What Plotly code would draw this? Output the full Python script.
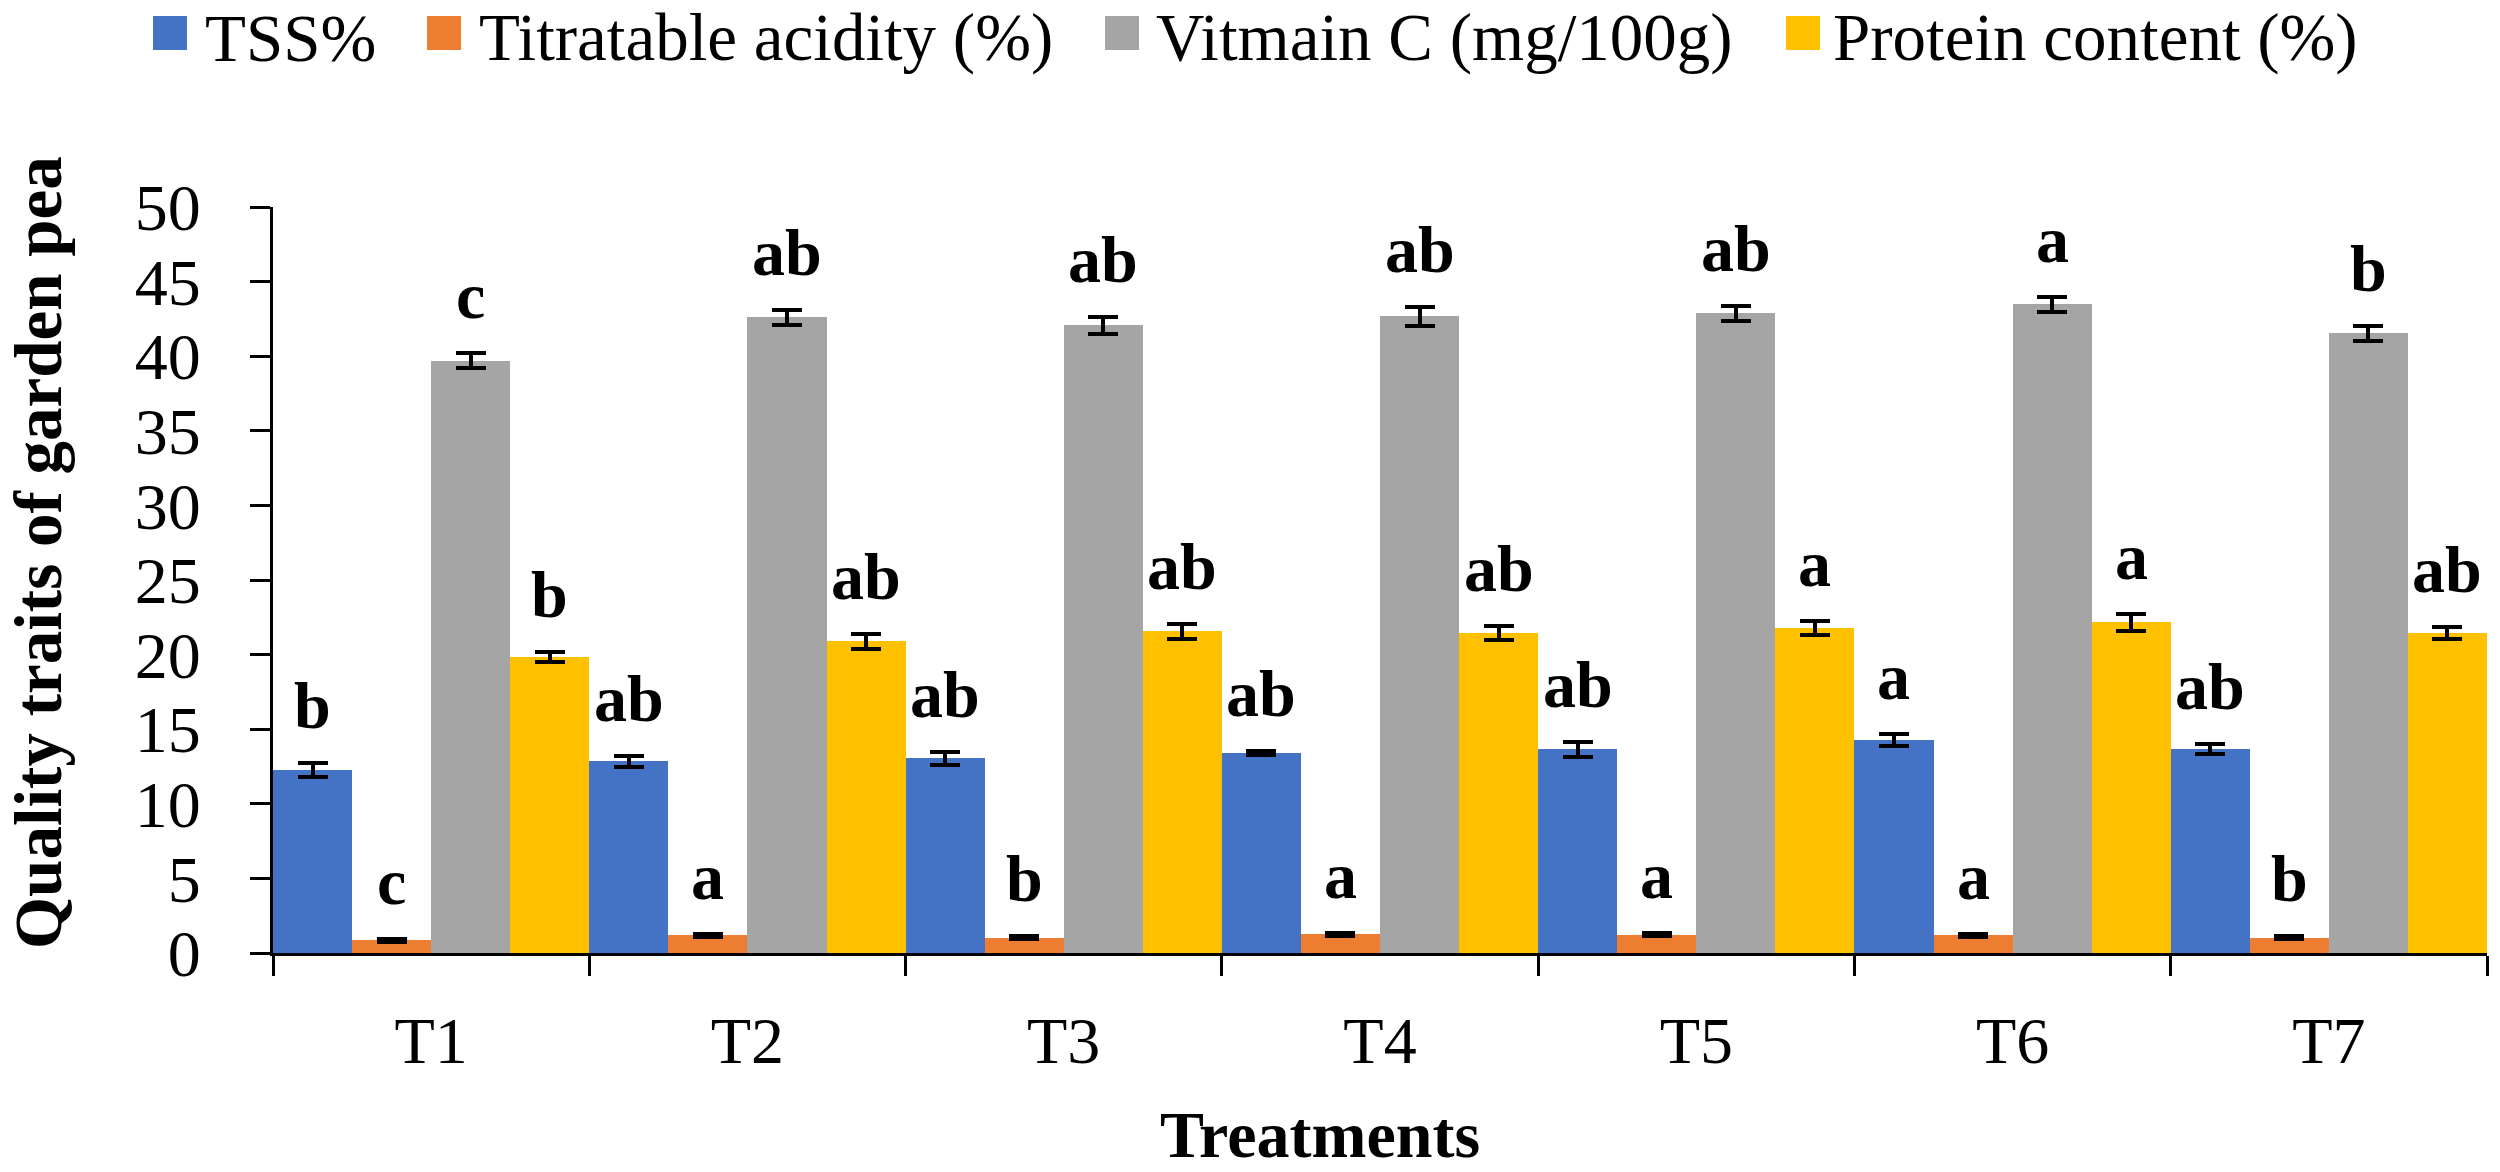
import plotly.graph_objects as go

# ---------------- data ----------------
treatments = ["T1", "T2", "T3", "T4", "T5", "T6", "T7"]
series_names = ["TSS%", "Titratable acidity (%)", "Vitmain C (mg/100g)", "Protein content (%)"]
colors = ["#4472C4", "#ED7D31", "#A5A5A5", "#FFC000"]

tss = [12.26, 12.84, 13.04, 13.41, 13.65, 14.26, 13.65]
tss_err = [0.45, 0.34, 0.44, 0.15, 0.50, 0.40, 0.34]
tss_letters = ["b", "ab", "ab", "ab", "ab", "a", "ab"]

acidity = [0.87, 1.19, 1.02, 1.25, 1.22, 1.20, 1.03]
acidity_err = [0.10, 0.10, 0.10, 0.10, 0.10, 0.10, 0.10]
acidity_letters = ["c", "a", "b", "a", "a", "a", "b"]

vitc = [39.70, 42.60, 42.06, 42.67, 42.87, 43.48, 41.55]
vitc_err = [0.50, 0.50, 0.54, 0.65, 0.50, 0.50, 0.50]
vitc_letters = ["c", "ab", "ab", "ab", "ab", "a", "b"]

protein = [19.83, 20.88, 21.55, 21.45, 21.79, 22.16, 21.45]
protein_err = [0.35, 0.50, 0.50, 0.45, 0.45, 0.55, 0.40]
protein_letters = ["b", "ab", "ab", "ab", "a", "a", "ab"]

y_ticks = [0, 5, 10, 15, 20, 25, 30, 35, 40, 45, 50]
x_title = "Treatments"
y_title = "Quality traits of garden pea"

values = [tss, acidity, vitc, protein]
errors = [tss_err, acidity_err, vitc_err, protein_err]
letters = [tss_letters, acidity_letters, vitc_letters, protein_letters]

# ---------------- layout geometry ----------------
W, H = 2500, 1172
L, R, T, B = 273, 2487, 207, 953          # plot area in pixels
FONT = "Times New Roman, Liberation Serif, serif"


def px(xp):
    return (xp - L) / (R - L)


def py(yp):
    return (B - yp) / (B - T)


fig = go.Figure()

n_series = len(values)
for s in range(n_series):
    fig.add_trace(go.Bar(
        x=treatments,
        y=values[s],
        name=series_names[s],
        marker=dict(color=colors[s], line=dict(width=0)),
        error_y=dict(type="data", array=errors[s], visible=True,
                     color="black", thickness=4, width=15),
        showlegend=False,
    ))

# significance letters above each error bar (category index + group offset)
annotations = []
slot = 1.0 / n_series
for s in range(n_series):
    off = -0.5 + slot * (s + 0.5)
    for i in range(len(treatments)):
        annotations.append(dict(
            x=i + off, y=values[s][i] + errors[s][i], xref="x", yref="y",
            text=letters[s][i], showarrow=False, yanchor="bottom", xanchor="center",
            yshift=20, borderpad=0,
            font=dict(family=FONT, size=66, color="black", weight="bold"),
        ))

# axis titles
annotations.append(dict(
    x=px(1320), y=py(1134), xref="paper", yref="paper", text=x_title,
    showarrow=False, xanchor="center", yanchor="middle", borderpad=0,
    font=dict(family=FONT, size=66, color="black", weight="bold"),
))
annotations.append(dict(
    x=px(38), y=py(553), xref="paper", yref="paper", text=y_title,
    showarrow=False, xanchor="center", yanchor="middle", textangle=-90, borderpad=0,
    font=dict(family=FONT, size=67, color="black", weight="bold"),
))

# custom legend (large square swatches like the reference)
legend_box_x = [153, 427, 1105, 1786]
legend_text_x = [204, 478, 1155, 1832]
shapes = []
for s in range(n_series):
    shapes.append(dict(
        type="rect", xref="paper", yref="paper",
        x0=px(legend_box_x[s]), x1=px(legend_box_x[s] + 34),
        y0=py(50), y1=py(16),
        fillcolor=colors[s], line=dict(width=0),
    ))
    annotations.append(dict(
        x=px(legend_text_x[s]), y=py(38), xref="paper", yref="paper",
        text=series_names[s], showarrow=False, xanchor="left", yanchor="middle",
        borderpad=0,
        font=dict(family=FONT, size=67, color="black"),
    ))

fig.update_layout(
    width=W, height=H,
    margin=dict(l=L, r=W - R, t=T, b=H - B, pad=0),
    paper_bgcolor="white", plot_bgcolor="white",
    barmode="group", bargap=0, bargroupgap=0,
    showlegend=False,
    font=dict(family=FONT, size=66, color="black"),
    annotations=annotations,
    shapes=shapes,
)

fig.update_xaxes(
    type="category", tickson="boundaries",
    ticks="outside", ticklen=20, tickwidth=3, tickcolor="black",
    showline=True, linewidth=3, linecolor="black",
    showgrid=False, zeroline=False,
    tickfont=dict(family=FONT, size=66, color="black"),
    ticklabelstandoff=28,
)
fig.update_yaxes(
    range=[0, 50], tickvals=y_ticks,
    ticks="outside", ticklen=20, tickwidth=3, tickcolor="black",
    showline=True, linewidth=3, linecolor="black",
    showgrid=False, zeroline=False,
    tickfont=dict(family=FONT, size=66, color="black"),
    ticklabelstandoff=36,
)

fig.write_html(
    "out.html",
    config={"displayModeBar": False},
    post_script="document.body.style.margin='0';document.body.style.overflow='hidden';",
)
